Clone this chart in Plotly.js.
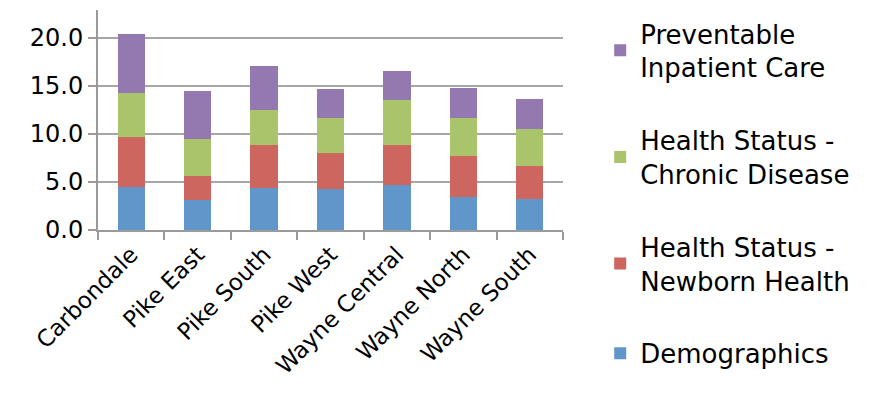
<!DOCTYPE html>
<html>
<head>
<meta charset="utf-8">
<script src="https://cdn.plot.ly/plotly-3.0.1.min.js"></script>
<style>html,body{margin:0;padding:0;background:#fff;}#chart{width:884px;height:413px;}</style>
</head>
<body>
<div id="chart"></div>
<script>
const categories = ["Carbondale", "Pike East", "Pike South", "Pike West", "Wayne Central", "Wayne North", "Wayne South"];
const demographics = [4.44, 3.09, 4.40, 4.26, 4.64, 3.43, 3.25];
const newbornHealth = [5.26, 2.56, 4.47, 3.78, 4.16, 4.26, 3.43];
const chronicDisease = [4.54, 3.78, 3.57, 3.63, 4.75, 3.98, 3.85];
const preventableCare = [6.21, 5.05, 4.61, 2.99, 3.05, 3.16, 3.09];
const seriesNames = ["Demographics", "Health Status -<br>Newborn Health", "Health Status -<br>Chronic Disease", "Preventable<br>Inpatient Care"];
const seriesColors = ["#6096CA", "#CD665F", "#AAC46C", "#9479B1"];
const seriesValues = [demographics, newbornHealth, chronicDisease, preventableCare];

const FONT = "DejaVu Sans, sans-serif";
const traces = seriesValues.map((vals, i) => ({
  type: "bar",
  x: categories,
  y: vals,
  name: seriesNames[i],
  legendgroup: "g" + (seriesValues.length - i),
  legendrank: (seriesValues.length - i) * 10,
  marker: {color: seriesColors[i], line: {width: 0}},
  hoverinfo: "x+y+name"
}));

const layout = {
  width: 884, height: 413,
  margin: {l: 98, r: 321, t: 10, b: 183, pad: 0},
  barmode: "stack",
  bargap: 0.59,
  paper_bgcolor: "#fff",
  plot_bgcolor: "#fff",
  font: {family: FONT, color: "#000", size: 24},
  showlegend: true,
  legend: {
    x: 1.08, xanchor: "left", y: 1.0, yanchor: "top",
    traceorder: "grouped",
    tracegroupgap: 36,
    maxheight: 420,
    font: {family: FONT, size: 26, color: "#000"},
    bgcolor: "rgba(0,0,0,0)",
    itemclick: false
  },
  xaxis: {
    type: "category",
    tickangle: -45,
    showgrid: false,
    showline: true, linecolor: "#9a9a9a", linewidth: 2,
    ticks: "outside", ticklen: 8, tickcolor: "#9a9a9a", tickwidth: 2,
    tickson: "boundaries",
    tickfont: {family: FONT, size: 23, color: "#000"},
    zeroline: false
  },
  yaxis: {
    range: [0, 22.9],
    tickvals: [0, 5, 10, 15, 20],
    ticktext: ["0.0", "5.0", "10.0", "15.0", "20.0"],
    showgrid: true, gridcolor: "#a6a6a6", gridwidth: 2,
    showline: true, linecolor: "#9a9a9a", linewidth: 2,
    ticks: "outside", ticklen: 8, tickcolor: "#9a9a9a", tickwidth: 2,
    tickfont: {family: FONT, size: 24, color: "#000"},
    zeroline: false
  }
};

Plotly.newPlot("chart", traces, layout, {displayModeBar: false, staticPlot: true});
</script>
</body>
</html>
